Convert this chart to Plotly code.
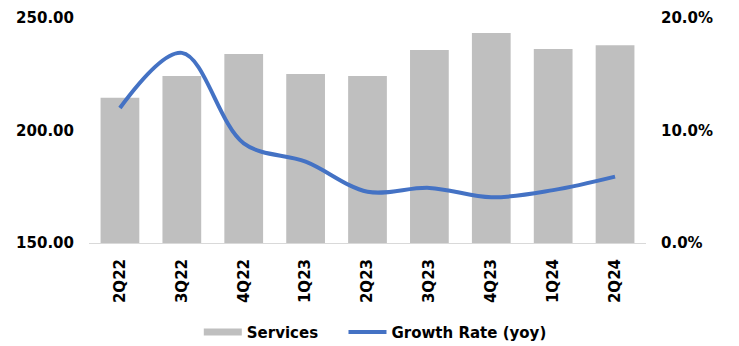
import plotly.graph_objects as go

# Quarterly services revenue with year-over-year growth
quarters = ["2Q22", "3Q22", "4Q22", "1Q23", "2Q23", "3Q23", "4Q23", "1Q24", "2Q24"]
services = [214.6, 224.2, 234.0, 225.1, 224.2, 235.8, 243.3, 236.2, 237.9]
growth_yoy = [0.120, 0.169, 0.0886, 0.0723, 0.0456, 0.049, 0.0406, 0.047, 0.059]

BAR_COLOR = "#BFBFBF"
LINE_COLOR = "#4472C4"
FONT = "Verdana, DejaVu Sans, sans-serif"

fig = go.Figure()

fig.add_trace(go.Bar(
    x=quarters, y=services, name="Services",
    marker=dict(color=BAR_COLOR, line=dict(width=0)),
    showlegend=False, legendgroup="services",
))
# legend entry for the bars drawn as a wide swatch
fig.add_trace(go.Scatter(
    x=[None], y=[None], name="Services", mode="lines",
    line=dict(color=BAR_COLOR, width=7),
    legendgroup="services", legend="legend",
))
fig.add_trace(go.Scatter(
    x=quarters, y=growth_yoy, name="Growth Rate (yoy)", mode="lines",
    line=dict(color=LINE_COLOR, width=4, shape="spline", smoothing=1),
    yaxis="y2", legend="legend2",
))

legend_style = dict(
    orientation="h", xanchor="left", xref="container",
    yref="container", y=0.04, yanchor="middle",
    itemwidth=38,
    font=dict(size=15, weight="bold"),
    bgcolor="rgba(0,0,0,0)",
)

fig.update_layout(
    width=739, height=346,
    margin=dict(l=89, r=93, t=18, b=103),
    paper_bgcolor="white", plot_bgcolor="white",
    font=dict(family=FONT, size=15, color="black", weight="bold"),
    bargap=0.374,
    xaxis=dict(
        type="category", tickangle=-90, showgrid=False,
        showline=True, linecolor="#D9D9D9", linewidth=1,
        ticks="", ticklabelstandoff=9, automargin=False,
        tickfont=dict(size=15, weight="bold"),
    ),
    yaxis=dict(
        range=[150, 250], dtick=50, tickformat=".2f",
        showgrid=False, zeroline=False, ticks="",
        ticklabelstandoff=14, automargin=False,
        tickfont=dict(size=15, weight="bold"),
    ),
    yaxis2=dict(
        range=[0, 0.2], dtick=0.1, tickformat=".1%",
        overlaying="y", side="right",
        showgrid=False, zeroline=False, ticks="",
        ticklabelstandoff=14, automargin=False,
        tickfont=dict(size=15, weight="bold"),
    ),
    legend=dict(x=0.269, **legend_style),
    legend2=dict(x=0.4648, **legend_style),
)

fig.write_html("out.html")
